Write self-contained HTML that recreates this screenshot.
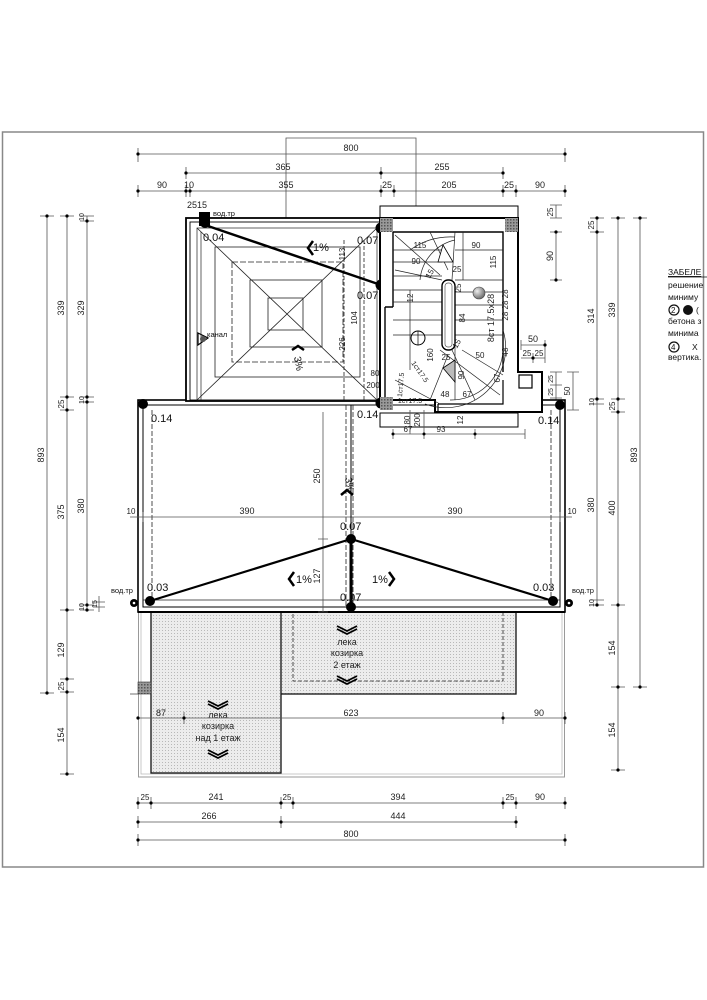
<!DOCTYPE html>
<html><head><meta charset="utf-8"><style>
html,body{margin:0;padding:0;background:#fff;}
svg{display:block;font-family:"Liberation Sans",sans-serif;}
.d{stroke:#555;stroke-width:0.8;fill:none}
.t{font-size:9px;fill:#222}
.k{stroke:#000;fill:none}
</style></head><body>
<svg width="707" height="1000" viewBox="0 0 707 1000" xmlns="http://www.w3.org/2000/svg">
<defs>
<pattern id="st" width="3" height="3" patternUnits="userSpaceOnUse"><rect width="3" height="3" fill="#ececec"/><rect width="1" height="1" fill="#b8b8b8"/></pattern>
<pattern id="hh" width="3" height="3" patternUnits="userSpaceOnUse"><rect width="3" height="3" fill="#999"/><rect width="1.5" height="1.5" fill="#555"/></pattern>
<radialGradient id="bl" cx="0.35" cy="0.35" r="0.7"><stop offset="0" stop-color="#eee"/><stop offset="1" stop-color="#666"/></radialGradient>
</defs>
<!-- frame -->
<rect x="2.5" y="132" width="701" height="735" fill="none" stroke="#888" stroke-width="1.5"/>

<!-- top ref box -->
<path class="d" d="M286 218V138H416V218"/>

<!-- top dims -->
<g class="d">
<path d="M138 154H565M186 173H503M138 191H565"/>
<path d="M138 148v14M565 148v14M186 167v12M381 167v12M503 167v12M138 185v12M186 185v12M190 185v12M381 185v12M394 185v12M503 185v12M516 185v12M565 185v12"/>
</g>
<g fill="#000"><circle cx="138" cy="154" r="1.6"/><circle cx="565" cy="154" r="1.6"/><circle cx="186" cy="173" r="1.6"/><circle cx="381" cy="173" r="1.6"/><circle cx="503" cy="173" r="1.6"/><circle cx="138" cy="191" r="1.6"/><circle cx="186" cy="191" r="1.6"/><circle cx="190" cy="191" r="1.6"/><circle cx="381" cy="191" r="1.6"/><circle cx="394" cy="191" r="1.6"/><circle cx="503" cy="191" r="1.6"/><circle cx="516" cy="191" r="1.6"/><circle cx="565" cy="191" r="1.6"/></g>
<g class="t" text-anchor="middle">
<text x="351" y="151">800</text><text x="283" y="170">365</text><text x="442" y="170">255</text>
<text x="162" y="188">90</text><text x="189" y="188">10</text><text x="286" y="188">355</text><text x="387" y="188">25</text><text x="449" y="188">205</text><text x="509" y="188">25</text><text x="540" y="188">90</text>
<text x="197" y="208">2515</text>
</g>

<!-- left dims -->
<g class="d">
<path d="M47 216V693M67 216V774M87 216V610"/>
<path d="M40 216h14M60 216h14M80 221h14M80 216h14M60 397h14M60 410h14M80 397h14M80 402h14M60 610h14M80 605h14M80 610h14M60 679h14M60 692h14M40 693h14M60 774h14M93 602h12M93 607h12M99 596v16"/>
</g>
<g fill="#000"><circle cx="47" cy="216" r="1.6"/><circle cx="47" cy="693" r="1.6"/><circle cx="67" cy="216" r="1.6"/><circle cx="67" cy="397" r="1.6"/><circle cx="67" cy="410" r="1.6"/><circle cx="67" cy="610" r="1.6"/><circle cx="67" cy="679" r="1.6"/><circle cx="67" cy="692" r="1.6"/><circle cx="67" cy="774" r="1.6"/><circle cx="87" cy="221" r="1.6"/><circle cx="87" cy="397" r="1.6"/><circle cx="87" cy="402" r="1.6"/><circle cx="87" cy="605" r="1.6"/><circle cx="87" cy="610" r="1.6"/></g>
<g class="t" text-anchor="middle">
<text transform="translate(44,455) rotate(-90)">893</text>
<text transform="translate(64,308) rotate(-90)">339</text>
<text transform="translate(64,404) rotate(-90)" font-size="8">25</text>
<text transform="translate(64,512) rotate(-90)">375</text>
<text transform="translate(64,650) rotate(-90)">129</text>
<text transform="translate(64,686) rotate(-90)" font-size="8">25</text>
<text transform="translate(64,735) rotate(-90)">154</text>
<text transform="translate(84,217) rotate(-90)" font-size="7">10</text>
<text transform="translate(84,308) rotate(-90)">329</text>
<text transform="translate(84,400) rotate(-90)" font-size="7">10</text>
<text transform="translate(84,506) rotate(-90)">380</text>
<text transform="translate(84,607) rotate(-90)" font-size="7">10</text>
<text transform="translate(97,604) rotate(-90)" font-size="7">15</text>
</g>

<!-- right dims -->
<g class="d">
<path d="M597 218V605M618 218V770M640 218V687M556 205V218M556 232V280M556 372V410M573 372V410M521 345H545M521 358H545"/>
<path d="M590 218h14M590 232h14M590 399h14M590 404h14M590 600h14M590 605h14M611 218h14M611 399h14M611 412h14M611 605h14M611 687h14M611 770h14M633 218h14M633 687h14M550 205h12M550 218h12M550 232h12M550 280h12M550 372h12M550 385h12M550 398h12M567 372h12M567 410h12M521 340v10M533 353v10M545 340v23"/>
</g>
<g fill="#000"><circle cx="597" cy="218" r="1.6"/><circle cx="597" cy="232" r="1.6"/><circle cx="597" cy="399" r="1.6"/><circle cx="597" cy="605" r="1.6"/><circle cx="618" cy="218" r="1.6"/><circle cx="618" cy="399" r="1.6"/><circle cx="618" cy="412" r="1.6"/><circle cx="618" cy="605" r="1.6"/><circle cx="618" cy="687" r="1.6"/><circle cx="618" cy="770" r="1.6"/><circle cx="640" cy="218" r="1.6"/><circle cx="640" cy="687" r="1.6"/><circle cx="556" cy="232" r="1.6"/><circle cx="556" cy="280" r="1.6"/><circle cx="545" cy="345" r="1.6"/><circle cx="533" cy="358" r="1.6"/></g>
<g class="t" text-anchor="middle">
<text transform="translate(553,212) rotate(-90)" font-size="8">25</text>
<text transform="translate(553,256) rotate(-90)">90</text>
<text transform="translate(594,225) rotate(-90)" font-size="8">25</text>
<text transform="translate(594,316) rotate(-90)">314</text>
<text transform="translate(594,402) rotate(-90)" font-size="7">10</text>
<text transform="translate(594,505) rotate(-90)">380</text>
<text transform="translate(594,603) rotate(-90)" font-size="7">10</text>
<text transform="translate(615,310) rotate(-90)">339</text>
<text transform="translate(615,406) rotate(-90)" font-size="8">25</text>
<text transform="translate(615,508) rotate(-90)">400</text>
<text transform="translate(615,648) rotate(-90)">154</text>
<text transform="translate(615,730) rotate(-90)">154</text>
<text transform="translate(637,455) rotate(-90)">893</text>
<text x="533" y="342">50</text><text x="527" y="356" font-size="8">25</text><text x="539" y="356" font-size="8">25</text>
<text transform="translate(553,379) rotate(-90)" font-size="7">25</text>
<text transform="translate(553,392) rotate(-90)" font-size="7">25</text>
<text transform="translate(570,391) rotate(-90)" font-size="8">50</text>
</g>

<!-- legend -->
<g font-size="8.5" fill="#111">
<text x="668" y="275" text-decoration="underline">ЗАБЕЛЕ</text>
<line x1="668" y1="277" x2="707" y2="277" stroke="#111" stroke-width="0.8"/>
<text x="668" y="288">решение</text>
<text x="668" y="300">миниму</text>
<circle cx="674" cy="310" r="5" fill="none" stroke="#111" stroke-width="1.2"/><text x="671" y="313" font-size="8">2</text>
<circle cx="688" cy="310" r="5" fill="#111"/><text x="696" y="313">(</text>
<text x="668" y="324">бетона з</text>
<text x="668" y="336">минима</text>
<circle cx="674" cy="347" r="5" fill="none" stroke="#111" stroke-width="1.2"/><text x="671" y="350" font-size="8">4</text>
<text x="692" y="350">Х</text>
<text x="668" y="360">вертика.</text>
</g>

<!-- bottom canopy area -->
<rect x="138.5" y="612" width="426" height="165" fill="none" stroke="#999" stroke-width="1"/>
<rect x="141" y="612" width="421" height="162" fill="none" stroke="#bbb" stroke-width="0.8"/>
<rect x="184" y="612" width="332" height="82" fill="url(#st)" stroke="#111" stroke-width="1.3"/>
<rect x="151" y="612" width="130" height="161" fill="url(#st)" stroke="#111" stroke-width="1.3"/>
<rect x="293" y="612" width="210" height="69" fill="none" stroke="#222" stroke-width="0.8" stroke-dasharray="4,2"/>
<rect x="138" y="682" width="13" height="12" fill="url(#hh)" stroke="#333" stroke-width="0.6"/>
<line x1="130" y1="694" x2="138" y2="694" stroke="#333" stroke-width="0.7"/>
<g class="k" stroke-width="1.8">
<polyline points="337,626 347,631 357,626"/><polyline points="337,629 347,634 357,629"/>
<polyline points="337,676 347,681 357,676"/><polyline points="337,679 347,684 357,679"/>
<polyline points="208,701 218,706 228,701"/><polyline points="208,704 218,709 228,704"/>
<polyline points="208,750 218,755 228,750"/><polyline points="208,753 218,758 228,753"/>
</g>
<g font-size="9" fill="#222" text-anchor="middle">
<text x="347" y="645">лека</text><text x="347" y="656">козирка</text><text x="347" y="668">2 етаж</text>
<text x="218" y="718">лека</text><text x="218" y="729">козирка</text><text x="218" y="741">над 1 етаж</text>
</g>
<!-- 87/623/90 -->
<g class="d"><path d="M138 718H565M184 712v12M503 712v12M565 712v12"/></g>
<g fill="#000"><circle cx="138" cy="718" r="1.6"/><circle cx="184" cy="718" r="1.6"/><circle cx="503" cy="718" r="1.6"/><circle cx="565" cy="718" r="1.6"/></g>
<g class="t" text-anchor="middle"><text x="161" y="716">87</text><text x="351" y="716">623</text><text x="539" y="716">90</text></g>

<!-- bottom dims -->
<g class="d">
<path d="M138 803H565M138 822H516M138 840H565"/>
<path d="M138 797v12M151 797v12M281 797v12M293 797v12M503 797v12M516 797v12M565 797v12M138 816v12M281 816v12M516 816v12M138 834v12M565 834v12"/>
</g>
<g fill="#000"><circle cx="138" cy="803" r="1.6"/><circle cx="151" cy="803" r="1.6"/><circle cx="281" cy="803" r="1.6"/><circle cx="293" cy="803" r="1.6"/><circle cx="503" cy="803" r="1.6"/><circle cx="516" cy="803" r="1.6"/><circle cx="565" cy="803" r="1.6"/><circle cx="138" cy="822" r="1.6"/><circle cx="281" cy="822" r="1.6"/><circle cx="516" cy="822" r="1.6"/><circle cx="138" cy="840" r="1.6"/><circle cx="565" cy="840" r="1.6"/></g>
<g class="t" text-anchor="middle">
<text x="145" y="800" font-size="8">25</text><text x="216" y="800">241</text><text x="287" y="800" font-size="8">25</text><text x="398" y="800">394</text><text x="510" y="800" font-size="8">25</text><text x="540" y="800">90</text>
<text x="209" y="819">266</text><text x="398" y="819">444</text><text x="351" y="837">800</text>
</g>

<!-- lower main roof -->
<rect x="138" y="400" width="427" height="212" fill="#fff" stroke="#000" stroke-width="1.6"/>
<rect x="143" y="405" width="417" height="202" fill="none" stroke="#000" stroke-width="1"/>
<line x1="138" y1="612" x2="565" y2="612" stroke="#000" stroke-width="2"/>
<path d="M152 410V603M551 410V603M346 405V607M353 405V607" stroke="#222" stroke-width="0.8" stroke-dasharray="5,2" fill="none"/>
<line x1="143" y1="600" x2="560" y2="600" stroke="#222" stroke-width="0.7"/>
<g class="d"><path d="M130 517H572M143 512v10M351 512v10M560 512v10M323 412V612M318 539h10M318 612h10"/></g>
<g class="t" text-anchor="middle">
<text x="247" y="514">390</text><text x="455" y="514">390</text><text x="131" y="514" font-size="8">10</text><text x="572" y="514" font-size="8">10</text>
<text transform="translate(320,476) rotate(-90)">250</text>
<text transform="translate(320,576) rotate(-90)">127</text>
</g>
<polyline points="150,601 351,539 553,601" fill="none" stroke="#000" stroke-width="2.2"/>
<line x1="351" y1="539" x2="351" y2="607" stroke="#000" stroke-width="3"/>
<line x1="351" y1="405" x2="351" y2="539" stroke="#000" stroke-width="1"/>
<g fill="#000">
<circle cx="351" cy="539" r="5"/><circle cx="351" cy="607" r="5"/><circle cx="150" cy="601" r="5"/><circle cx="553" cy="601" r="5"/>
<circle cx="143" cy="404" r="5"/><circle cx="560" cy="405" r="5"/>
</g>
<circle cx="134" cy="603" r="4" fill="#000"/><circle cx="134" cy="603" r="1.3" fill="#fff"/>
<circle cx="569" cy="603" r="4" fill="#000"/><circle cx="569" cy="603" r="1.3" fill="#fff"/>
<g font-size="11" fill="#111">
<text x="340" y="530">0.07</text><text x="340" y="601">0.07</text>
<text x="147" y="591">0.03</text><text x="533" y="591">0.03</text>
<text x="151" y="422">0.14</text><text x="357" y="418">0.14</text><text x="538" y="424">0.14</text>
<text x="296" y="583">1%</text><text x="372" y="583">1%</text>
</g>
<g font-size="7.5" fill="#111"><text x="111" y="593">вод.тр</text><text x="572" y="593">вод.тр</text></g>
<g class="k" stroke-width="2.5"><polyline points="294,572 289,579 294,586"/><polyline points="389,572 394,579 389,586"/><polyline points="341,495 347,490 353,495"/></g>
<text transform="translate(345,478) rotate(80)" font-size="10" fill="#111">3%</text>

<!-- upper-left terrace -->
<rect x="186" y="218" width="195" height="183" fill="#fff" stroke="#000" stroke-width="1.8"/>
<rect x="190" y="222" width="190" height="178" fill="none" stroke="#000" stroke-width="0.9"/>
<rect x="197" y="228" width="180" height="172" fill="none" stroke="#222" stroke-width="0.7"/>
<line x1="201" y1="232" x2="201" y2="400" stroke="#222" stroke-width="0.7"/>
<g stroke="#222" stroke-width="0.8" fill="none">
<rect x="215" y="247" width="145" height="130"/>
<rect x="232" y="262" width="111" height="100" stroke-dasharray="6,2"/>
<rect x="250" y="280" width="72" height="67"/>
<rect x="268" y="298" width="35" height="32"/>
<path d="M197 228L377 400M377 228L197 400"/>
<path d="M364 240V400M344 240V400" stroke-dasharray="4,2"/>
</g>
<line x1="205" y1="225" x2="381" y2="285" stroke="#000" stroke-width="2.5"/>
<rect x="199" y="212" width="11" height="14" fill="#000"/>
<g fill="#000"><circle cx="205" cy="223" r="5"/><circle cx="381" cy="228" r="5.5"/><circle cx="381" cy="285" r="5.5"/><circle cx="381" cy="403" r="5.5"/></g>
<g font-size="11" fill="#111"><text x="203" y="241">0.04</text><text x="357" y="244">0.07</text><text x="357" y="299">0.07</text><text x="313" y="251">1%</text></g>
<g font-size="7.5" fill="#111"><text x="213" y="216">вод.тр</text><text x="207" y="337">канал</text></g>
<path d="M198 333 L208 338 L198 345 Z" fill="none" stroke="#000" stroke-width="1.2"/><circle cx="203" cy="339" r="3" fill="#555"/>
<g class="k" stroke-width="2.5"><polyline points="313,241 308,248 313,255"/><polyline points="292,350 298,346 304,350"/></g>
<text transform="translate(294,357) rotate(80)" font-size="10" fill="#111">3%</text>
<g font-size="8" fill="#222" text-anchor="middle">
<text transform="translate(345,254) rotate(-90)">113</text>
<text transform="translate(357,318) rotate(-90)">104</text>
<text transform="translate(345,344) rotate(-90)">226</text>
<text x="375" y="376">80</text><text x="373" y="388">200</text>
</g>

<!-- stair block -->
<rect x="380" y="206" width="138" height="12" fill="#fff" stroke="#000" stroke-width="1"/>
<path d="M380 218H518V372H542V412H435V400H380Z" fill="#fff" stroke="#000" stroke-width="2"/>
<path d="M393 232H503V372M393 232V307M385 307V400M385 307H393" fill="none" stroke="#000" stroke-width="1.4"/>
<rect x="380" y="413" width="138" height="14" fill="#fff" stroke="#000" stroke-width="1"/>
<rect x="380" y="218" width="13" height="14" fill="url(#hh)"/><rect x="505" y="218" width="13" height="14" fill="url(#hh)"/>
<rect x="380" y="397" width="13" height="13" fill="url(#hh)"/>
<rect x="519" y="375" width="13" height="13" fill="none" stroke="#000" stroke-width="1.2"/>
<path d="M438 404H503V380M438 404V412" fill="none" stroke="#000" stroke-width="1.2"/>
<g stroke="#222" stroke-width="0.7" fill="none">
<path d="M393 250H442M393 262H442M393 276H442M393 290H442M393 302H442M455 250H503M455 280H503"/>
<path d="M455 292H503M455 305H503M455 320H503M455 335H503M393 320H442M393 335H442"/>
<path d="M395 235L440 275M395 270L442 280M430 232L448 270M455 232L452 280"/>
<path d="M440 350L500 395M452 350L475 400M448 355L430 400M462 350L503 375"/>
<path d="M410 290V370M463 232V280M455 300V400"/>
<path d="M395 380L440 404"/>
<path d="M420 280 A45 45 0 0 1 455 240"/>
<path d="M450 400 A52 52 0 0 0 503 350"/>
<path d="M425 404 A60 60 0 0 0 503 330"/>
<path d="M410 250 A70 70 0 0 1 455 237"/>
</g>
<rect x="442" y="280" width="13" height="70" rx="6" fill="#fff" stroke="#000" stroke-width="1.4"/>
<rect x="445" y="283" width="7" height="64" rx="3" fill="none" stroke="#555" stroke-width="0.7"/>
<circle cx="418" cy="338" r="7" fill="none" stroke="#000" stroke-width="1"/><line x1="418" y1="331" x2="418" y2="345" stroke="#000" stroke-width="0.7"/>
<circle cx="479" cy="293" r="6" fill="url(#bl)" stroke="#444" stroke-width="0.6"/>
<path d="M443 245L453 262L438 262Z" fill="#fff" stroke="#000" stroke-width="0.8"/>
<path d="M443 368L455 360L455 382Z" fill="#bbb" stroke="#000" stroke-width="0.8"/>
<g font-size="8" fill="#222" text-anchor="middle">
<text x="420" y="248">115</text><text x="476" y="248">90</text><text x="416" y="264">90</text>
<text transform="translate(496,262) rotate(-90)">115</text>
<text transform="translate(432,275) rotate(-60)">15</text>
<text x="457" y="272">25</text>
<text transform="translate(461,288) rotate(-90)">25</text>
<text transform="translate(413,298) rotate(-90)">12</text>
<text transform="translate(465,318) rotate(-90)">84</text>
<text transform="translate(494,318) rotate(-90)" font-size="9">8ст 17.5x28</text>
<text transform="translate(508,305) rotate(-90)">28 28 28</text>
<text transform="translate(508,352) rotate(-90)">48</text>
<text transform="translate(433,355) rotate(-90)">160</text>
<text transform="translate(459,345) rotate(-60)">15</text>
<text x="446" y="360">25</text><text x="480" y="358">50</text>
<text transform="translate(464,375) rotate(-90)">90</text>
<text transform="translate(500,378) rotate(-90)">67</text>
<text x="445" y="397">48</text><text x="467" y="397">67</text>
<text transform="translate(403,385) rotate(-85)" font-size="7">1ст17.5</text>
<text transform="translate(418,373) rotate(55)" font-size="7">1ст17.5</text>
<text x="410" y="403" font-size="7">1ст17.5</text>
<text transform="translate(410,420) rotate(-90)">80</text>
<text transform="translate(420,420) rotate(-90)">200</text>
<text transform="translate(463,420) rotate(-90)">12</text>
<text x="408" y="432">67</text><text x="441" y="432">93</text>
</g>
<g class="d"><path d="M393 434H525M393 429v10M424 429v10M424 410v24M410 410v24M475 429v10M525 429v10"/></g>
<g fill="#000"><circle cx="393" cy="434" r="1.5"/><circle cx="424" cy="434" r="1.5"/><circle cx="475" cy="434" r="1.5"/></g>
</svg>
</body></html>
